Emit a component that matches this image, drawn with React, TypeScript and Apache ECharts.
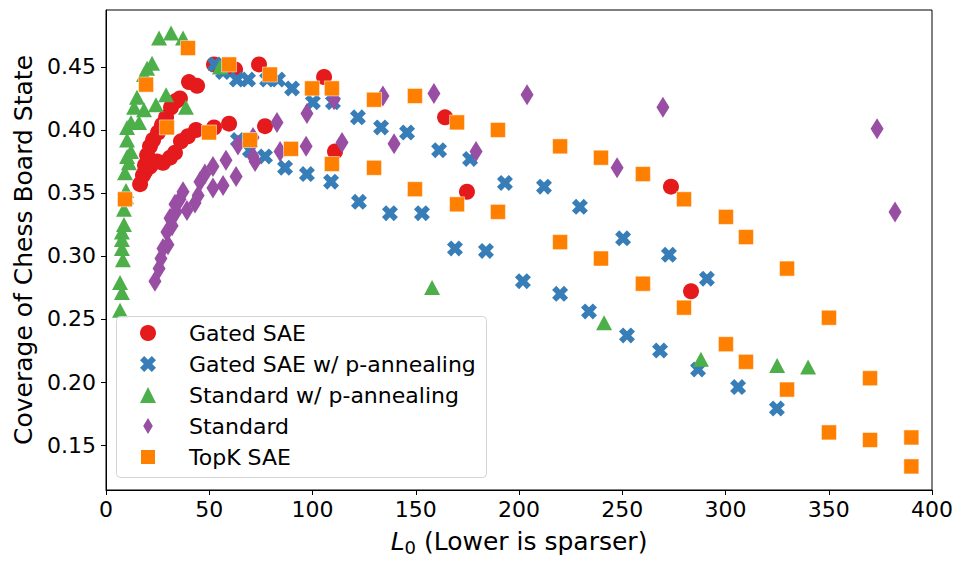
import React, { useEffect, useRef } from "react";
import * as echarts from "echarts";

const seriesNames = [
  "Gated SAE",
  "Gated SAE w/ p-annealing",
  "Standard w/ p-annealing",
  "Standard",
  "TopK SAE",
];

const yTicks = [0.15, 0.2, 0.25, 0.3, 0.35, 0.4, 0.45];

const gatedSae: number[][] = [
  [16.5, 0.357], [17.9, 0.364], [18.9, 0.372], [19.9, 0.38], [21.3, 0.387], [22.8, 0.392],
  [25.2, 0.398], [27.1, 0.404], [29.1, 0.41], [31.5, 0.418], [33.9, 0.423], [35.8, 0.425],
  [40.2, 0.438], [44.1, 0.435],
  [18.9, 0.367], [21.3, 0.371], [24.7, 0.375], [27.6, 0.374], [31.0, 0.378], [33.4, 0.382],
  [36.3, 0.391], [39.7, 0.395], [43.6, 0.4], [52.3, 0.402], [59.6, 0.405], [77.0, 0.403],
  [52.3, 0.452], [62.5, 0.448], [74.1, 0.452], [105.6, 0.442], [110.9, 0.383],
  [164.2, 0.41], [174.8, 0.351], [273.6, 0.355], [283.3, 0.272],
];

const gatedSaePAnneal: number[][] = [
  [52.8, 0.452], [56.7, 0.446], [63.4, 0.44], [68.8, 0.44], [78.0, 0.44], [83.3, 0.44],
  [90.1, 0.433], [100.2, 0.422], [109.9, 0.422], [122.0, 0.41], [133.2, 0.402], [145.8, 0.398],
  [161.3, 0.384], [176.3, 0.377], [193.2, 0.358], [212.1, 0.355], [229.5, 0.339], [250.4, 0.314],
  [272.6, 0.301], [291.0, 0.282],
  [63.9, 0.392], [69.7, 0.384], [77.0, 0.379], [86.7, 0.37], [97.3, 0.365], [109.0, 0.359],
  [122.5, 0.343], [137.5, 0.334], [153.0, 0.334], [169.0, 0.306], [184.0, 0.304], [201.9, 0.28],
  [219.9, 0.27], [233.9, 0.256], [252.3, 0.237], [268.3, 0.225], [286.7, 0.21], [306.1, 0.196],
  [324.9, 0.179],
];

const standardPAnneal: number[][] = [
  [25.7, 0.473], [31.5, 0.477], [37.3, 0.473], [22.3, 0.453], [19.9, 0.449], [18.4, 0.444],
  [15.0, 0.426], [13.6, 0.418], [18.4, 0.416], [24.2, 0.42], [29.1, 0.428], [38.7, 0.418],
  [16.0, 0.406], [12.1, 0.406], [10.2, 0.402], [10.2, 0.392], [12.1, 0.383], [10.2, 0.379],
  [11.1, 0.374], [9.2, 0.366], [9.7, 0.352], [9.7, 0.347], [8.7, 0.337], [8.7, 0.325],
  [7.7, 0.319], [7.7, 0.313], [7.7, 0.306], [8.2, 0.297], [6.8, 0.279], [7.7, 0.271],
  [6.8, 0.257], [55.2, 0.45],
  [157.9, 0.275], [241.2, 0.247], [288.1, 0.218], [325.0, 0.213], [340.0, 0.212],
];

const standard: number[][] = [
  [23.7, 0.28], [25.7, 0.29], [26.6, 0.298], [27.6, 0.306], [30.0, 0.309], [29.5, 0.319],
  [32.0, 0.324], [31.0, 0.33], [33.9, 0.335], [33.4, 0.341], [35.8, 0.345], [37.3, 0.351],
  [39.2, 0.336], [43.1, 0.342], [44.6, 0.348], [45.5, 0.359], [47.9, 0.365], [51.8, 0.354],
  [51.8, 0.371], [56.7, 0.356], [58.1, 0.376], [63.0, 0.363], [63.9, 0.388], [71.2, 0.379],
  [72.2, 0.375], [71.2, 0.394],
  [82.8, 0.406], [84.3, 0.383], [97.3, 0.413], [96.9, 0.387], [110.4, 0.424], [114.3, 0.39],
  [134.1, 0.427], [139.5, 0.389], [158.8, 0.429], [179.2, 0.383], [203.9, 0.428],
  [247.5, 0.37], [269.7, 0.418], [373.4, 0.401], [382.1, 0.335],
];

const topK: number[][] = [
  [9.2, 0.345], [19.4, 0.436], [29.5, 0.402], [39.7, 0.465], [49.9, 0.398], [59.6, 0.452],
  [69.7, 0.392], [79.4, 0.444], [89.6, 0.385], [99.8, 0.433], [109.4, 0.373], [109.4, 0.433],
  [129.8, 0.424], [129.8, 0.37], [149.6, 0.427], [149.6, 0.353], [170.0, 0.406], [170.0, 0.341],
  [189.8, 0.4], [189.8, 0.335], [219.9, 0.387], [219.9, 0.311], [239.7, 0.378], [239.7, 0.298],
  [260.0, 0.365], [260.0, 0.278], [279.9, 0.345], [279.9, 0.259], [300.2, 0.331], [300.2, 0.23],
  [309.9, 0.315], [309.9, 0.216], [329.8, 0.29], [329.8, 0.194], [350.1, 0.251], [350.1, 0.16],
  [370.0, 0.203], [370.0, 0.154], [390.0, 0.156], [390.0, 0.133],
];

const FONT = "DejaVu Sans";
const X_PATH =
  "path://M2.6,0 L5,2.4 L7.4,0 L10,2.6 L7.6,5 L10,7.4 L7.4,10 L5,7.6 L2.6,10 L0,7.4 L2.4,5 L0,2.6 Z";
const THIN_DIAMOND = "path://M3,0 L6,5 L3,10 L0,5 Z";

export default function App() {
  const ref = useRef<HTMLDivElement>(null);
  useEffect(() => {
    document.body.style.margin = "0";
    if (!ref.current) return;
    const chart = echarts.init(ref.current, null, { renderer: "svg" });
    const mk = (name: string, data: number[][], symbol: string, size: any, color: string, extra: any = {}) => ({
      name,
      type: "scatter",
      data,
      symbol,
      symbolSize: size,
      itemStyle: { color, opacity: 1, ...extra },
      emphasis: { disabled: true },
    });
    chart.setOption({
      animation: false,
      backgroundColor: "#fff",
      textStyle: { fontFamily: FONT },
      grid: { left: 106, right: 34, top: 10, bottom: 76, show: true, borderColor: "#000", borderWidth: 1, outerBoundsMode: "none" },
      xAxis: {
        type: "value",
        min: 0,
        max: 400,
        interval: 50,
        name: "{i|L}{s|0} (Lower is sparser)",
        nameLocation: "middle",
        nameGap: 36,
        nameTextStyle: {
          fontSize: 25,
          color: "#000",
          fontFamily: FONT,
          rich: {
            i: { fontSize: 25, fontStyle: "italic", fontFamily: FONT, color: "#000" },
            s: { fontSize: 18, fontFamily: FONT, color: "#000", padding: [12, 0, 0, 0] },
          },
        },
        axisLine: { show: true, onZero: false, lineStyle: { color: "#000", width: 1 } },
        axisTick: { show: true, length: 5, lineStyle: { color: "#000" } },
        axisLabel: { fontSize: 22, color: "#000", margin: 8, fontFamily: FONT },
        splitLine: { show: false },
      },
      yAxis: {
        type: "value",
        min: 0.1143,
        max: 0.4952,
        name: "Coverage of Chess Board State",
        nameLocation: "middle",
        nameGap: 64,
        nameTextStyle: { fontSize: 25, color: "#000", fontFamily: FONT },
        axisLine: { show: true, onZero: false, lineStyle: { color: "#000", width: 1 } },
        axisTick: { show: true, length: 5, lineStyle: { color: "#000" }, customValues: yTicks },
        axisLabel: {
          fontSize: 22,
          color: "#000",
          margin: 10,
          fontFamily: FONT,
          customValues: yTicks,
          formatter: (v: number) => v.toFixed(2),
        },
        splitLine: { show: false },
      },
      legend: {
        orient: "vertical",
        left: 139,
        top: 322,
        padding: 0,
        itemWidth: 16,
        itemHeight: 16,
        itemGap: 9,
        z: 5,
        textStyle: { fontSize: 22, color: "#000", fontFamily: FONT, padding: [0, 0, 0, 28] },
        data: seriesNames,
      },
      graphic: [
        {
          type: "rect",
          z: 4,
          shape: { x: 116.5, y: 316.5, width: 370, height: 161, r: 4 },
          style: { fill: "rgba(255,255,255,0.8)", stroke: "#d4d4d4", lineWidth: 1 },
        },
      ],
      series: [
        mk(seriesNames[0], gatedSae, "circle", 16, "#e41a1c"),
        mk(seriesNames[1], gatedSaePAnneal, X_PATH, 16, "#377eb8"),
        mk(seriesNames[2], standardPAnneal, "triangle", [16, 15], "#4daf4a"),
        mk(seriesNames[3], standard, THIN_DIAMOND, [13, 21], "#984ea3"),
        mk(seriesNames[4], topK, "rect", 15, "#ff7f00", { borderColor: "#fff", borderWidth: 0.5 }),
      ],
    });
    return () => chart.dispose();
  }, []);
  return <div ref={ref} style={{ width: 966, height: 566 }} />;
}
